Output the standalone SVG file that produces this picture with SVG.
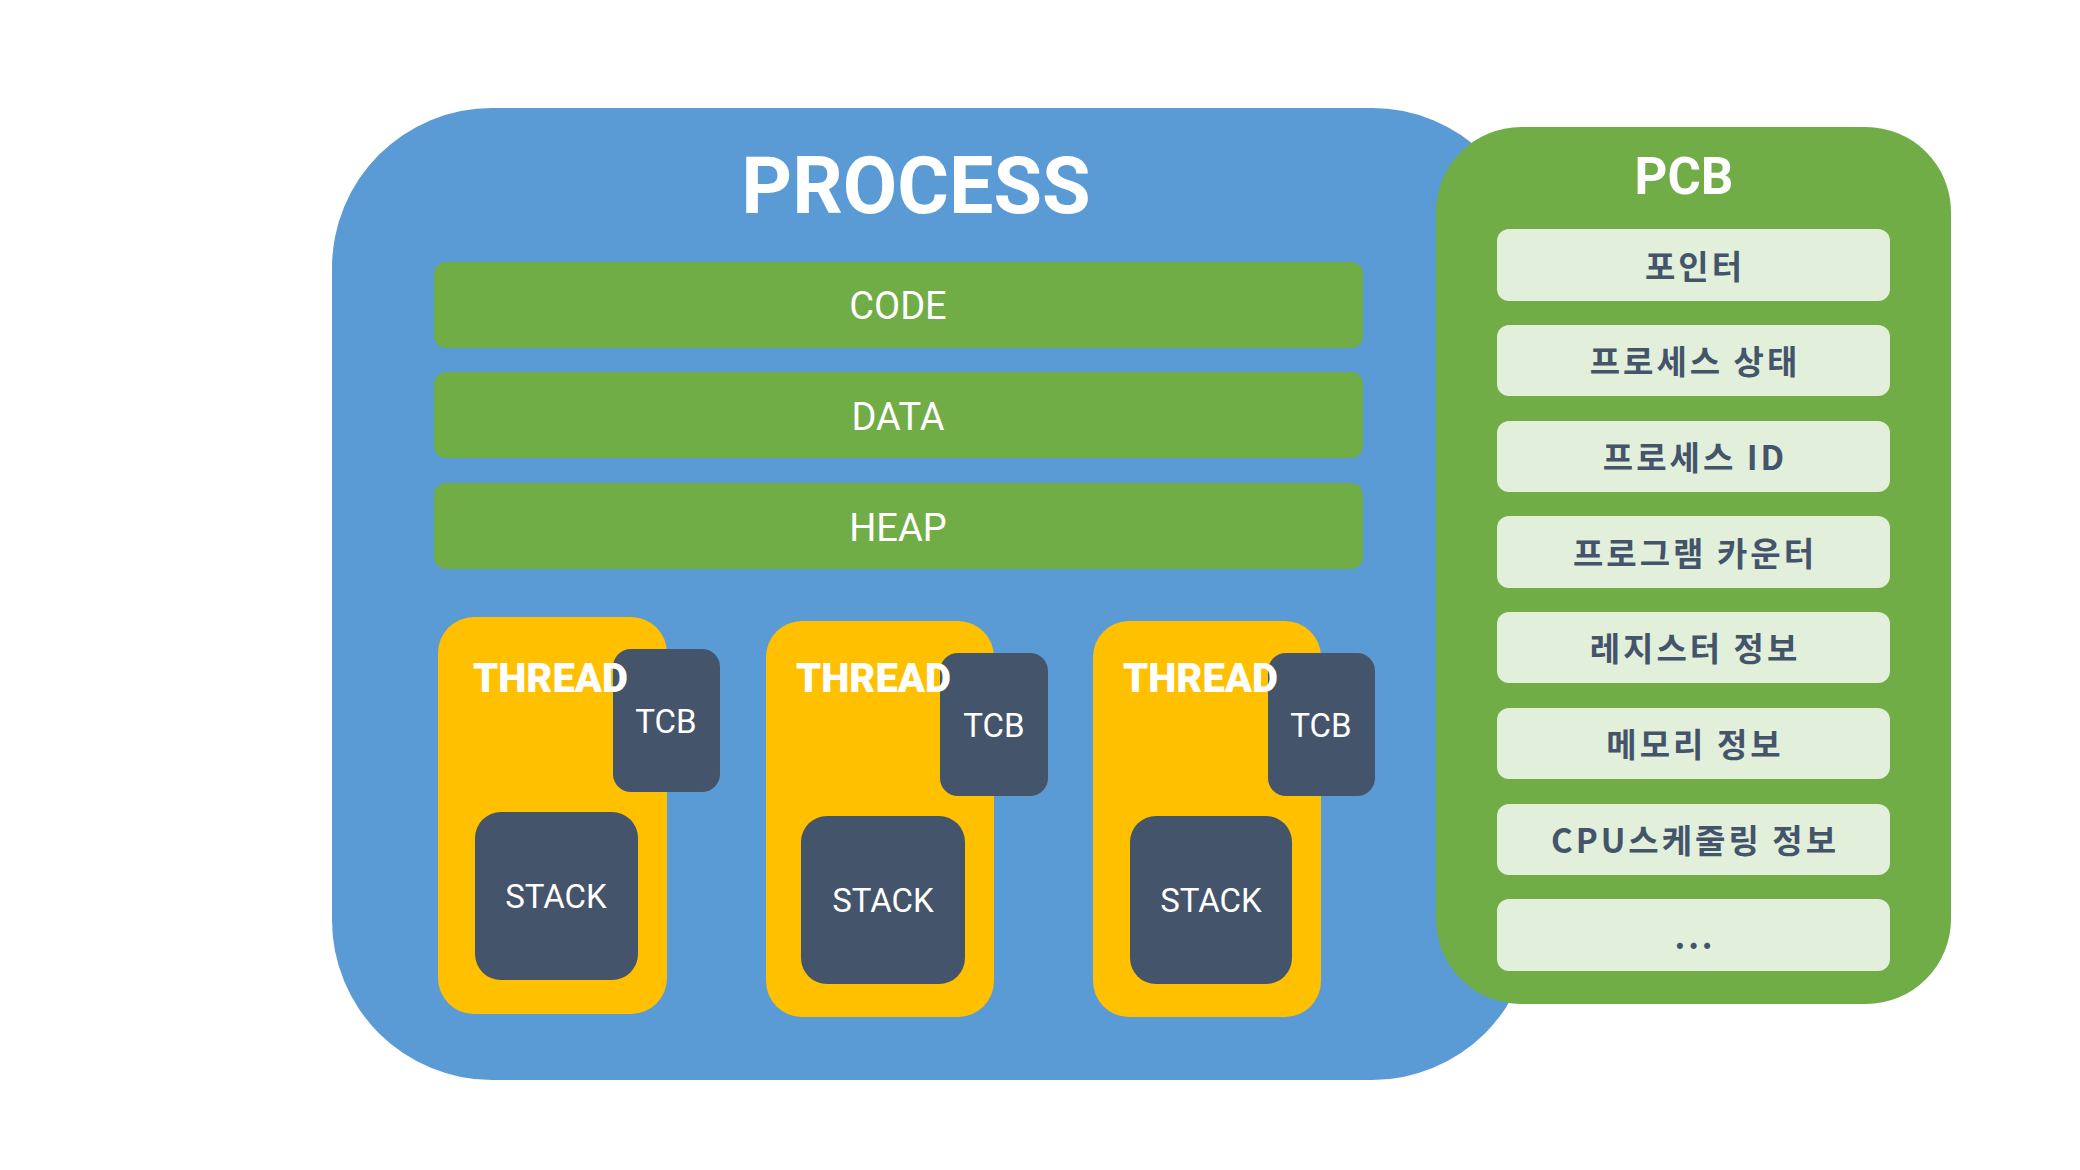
<svg xmlns="http://www.w3.org/2000/svg" width="2080" height="1170" viewBox="0 0 2080 1170">
<style>
.lat{font-family:Roboto,"Liberation Sans",sans-serif;fill:#ffffff;text-anchor:middle}
.title{font-size:79px;font-weight:700}
.seg{font-size:38px;font-weight:400}
.thr{font-size:40px;font-weight:900;text-anchor:start}
.sm{font-size:33px;font-weight:400}
.kr{font-family:"Noto Sans CJK KR","Noto Sans",sans-serif;font-size:33px;font-weight:700;fill:#44546a;text-anchor:middle;dominant-baseline:central;letter-spacing:3px}
.bar{fill:#70ad47}
.item{fill:#e2efda}
.yel{fill:#ffc000}
.dk{fill:#44546a}
</style>
<rect width="2080" height="1170" fill="#ffffff"/>
<g id="process">
<rect x="332" y="108" width="1200" height="972" rx="160" ry="160" fill="#5b9bd5"/>
<text class="lat title" x="916" y="213">PROCESS</text>
</g>
<g id="code">
<rect class="bar" x="434" y="262" width="929" height="86" rx="12"/>
<text class="lat seg" x="898" y="319">CODE</text>
</g>
<g id="data">
<rect class="bar" x="434" y="372" width="929" height="86" rx="12"/>
<text class="lat seg" x="898" y="430">DATA</text>
</g>
<g id="heap">
<rect class="bar" x="434" y="483" width="929" height="86" rx="12"/>
<text class="lat seg" x="898" y="541">HEAP</text>
</g>
<g id="thread1">
<rect class="yel" x="438" y="617" width="229" height="397" rx="36"/>
<g id="stack1">
<rect class="dk" x="475" y="812" width="163" height="168" rx="26"/>
<text class="lat sm" x="556" y="908">STACK</text>
</g>
<g id="tcb1">
<rect class="dk" x="613" y="649" width="107" height="143" rx="18"/>
<text class="lat sm" x="666" y="733">TCB</text>
</g>
<text class="lat thr" x="473" y="692">THREAD</text>
</g>
<g id="thread2">
<rect class="yel" x="766" y="621" width="228" height="396" rx="36"/>
<g id="stack2">
<rect class="dk" x="801" y="816" width="164" height="168" rx="26"/>
<text class="lat sm" x="883" y="912">STACK</text>
</g>
<g id="tcb2">
<rect class="dk" x="940" y="653" width="108" height="143" rx="18"/>
<text class="lat sm" x="994" y="737">TCB</text>
</g>
<text class="lat thr" x="796" y="692">THREAD</text>
</g>
<g id="thread3">
<rect class="yel" x="1093" y="621" width="228" height="396" rx="36"/>
<g id="stack3">
<rect class="dk" x="1130" y="816" width="162" height="168" rx="26"/>
<text class="lat sm" x="1211" y="912">STACK</text>
</g>
<g id="tcb3">
<rect class="dk" x="1268" y="653" width="107" height="143" rx="18"/>
<text class="lat sm" x="1321" y="737">TCB</text>
</g>
<text class="lat thr" x="1123" y="692">THREAD</text>
</g>
<g id="pcb">
<rect x="1436" y="127" width="515" height="877" rx="85" fill="#70ad47"/>
<text class="lat title" x="1684" y="194" style="font-size:51px">PCB</text>
<g id="pcb-pointer"><rect class="item" x="1497" y="229" width="393" height="72" rx="12"/><text class="kr" x="1695" y="265">포인터</text></g>
<g id="pcb-state"><rect class="item" x="1497" y="325" width="393" height="71" rx="12"/><text class="kr" x="1695" y="360">프로세스 상태</text></g>
<g id="pcb-id"><rect class="item" x="1497" y="421" width="393" height="71" rx="12"/><text class="kr" x="1695" y="456">프로세스 ID</text></g>
<g id="pcb-pc"><rect class="item" x="1497" y="516" width="393" height="72" rx="12"/><text class="kr" x="1695" y="552">프로그램 카운터</text></g>
<g id="pcb-reg"><rect class="item" x="1497" y="612" width="393" height="71" rx="12"/><text class="kr" x="1695" y="647">레지스터 정보</text></g>
<g id="pcb-mem"><rect class="item" x="1497" y="708" width="393" height="71" rx="12"/><text class="kr" x="1695" y="743">메모리 정보</text></g>
<g id="pcb-cpu"><rect class="item" x="1497" y="804" width="393" height="71" rx="12"/><text class="kr" x="1695" y="839">CPU스케줄링 정보</text></g>
<g id="pcb-more"><rect class="item" x="1497" y="899" width="393" height="72" rx="12"/><text class="kr" x="1695" y="935">...</text></g>
</g>
<g id="connectors"/>
</svg>
